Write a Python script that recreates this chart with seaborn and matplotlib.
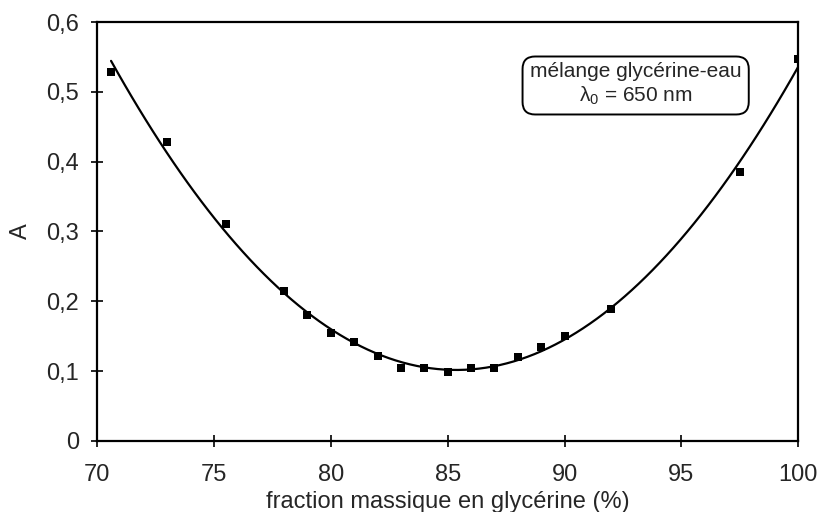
import numpy as np
import pandas as pd
import matplotlib
matplotlib.use("Agg")
import matplotlib.pyplot as plt
import seaborn as sns

# Mass fraction of glycerol (%) and measured absorbance A at 650 nm
fraction = [70.6, 73.0, 75.5, 78.0, 79.0, 80.0, 81.0, 82.0, 83.0, 84.0,
            85.0, 86.0, 87.0, 88.0, 89.0, 90.0, 92.0, 97.5, 100.0]
absorbance = [0.528, 0.428, 0.311, 0.215, 0.180, 0.155, 0.141, 0.122, 0.104, 0.105,
              0.098, 0.104, 0.105, 0.120, 0.135, 0.150, 0.189, 0.385, 0.547]

x_ticks = [70, 75, 80, 85, 90, 95, 100]
y_ticks = [0, 0.1, 0.2, 0.3, 0.4, 0.5, 0.6]

df = pd.DataFrame({"fraction": fraction, "A": absorbance})

sns.set_theme(style="white")
plt.rcParams["font.family"] = ["Liberation Sans", "DejaVu Sans"]
plt.rcParams["mathtext.default"] = "regular"

fig, ax = plt.subplots(figsize=(8.18, 5.12), dpi=100)
fig.subplots_adjust(left=0.1186, right=0.976, top=0.957, bottom=0.139)

# second-order polynomial trend line through the measurements
sns.regplot(data=df, x="fraction", y="A", order=2, ci=None, truncate=True,
            scatter=False, ax=ax, line_kws=dict(color="black", lw=1.6))
sns.scatterplot(data=df, x="fraction", y="A", marker="s", s=28, color="black",
                edgecolor="black", linewidth=0, ax=ax, zorder=3)

ax.set_xlim(70, 100)
ax.set_ylim(0, 0.6)
ax.set_xticks(x_ticks)
ax.set_yticks(y_ticks)
ax.set_xticklabels([str(v) for v in x_ticks], fontsize=17)
ax.set_yticklabels([f"{v:g}".replace(".", ",") for v in y_ticks], fontsize=17)
ax.tick_params(direction="inout", length=8, width=1.2, color="black",
               bottom=True, left=True)
ax.tick_params(axis="x", pad=13)
ax.tick_params(axis="y", pad=9)

for sp in ax.spines.values():
    sp.set_color("black")
    sp.set_linewidth(1.6)

ax.set_xlabel("fraction massique en glycérine (%)", fontsize=17, labelpad=3)
ax.set_ylabel("A", fontsize=17, labelpad=10)

ax.text(0.768, 0.85, "mélange glycérine-eau\n$\\lambda_0$ = 650 nm",
        transform=ax.transAxes, ha="center", va="center", fontsize=15,
        linespacing=1.2,
        bbox=dict(boxstyle="round,pad=0.35,rounding_size=0.6",
                  facecolor="white", edgecolor="black", linewidth=1.4))

fig.savefig("out.png", dpi=100)
